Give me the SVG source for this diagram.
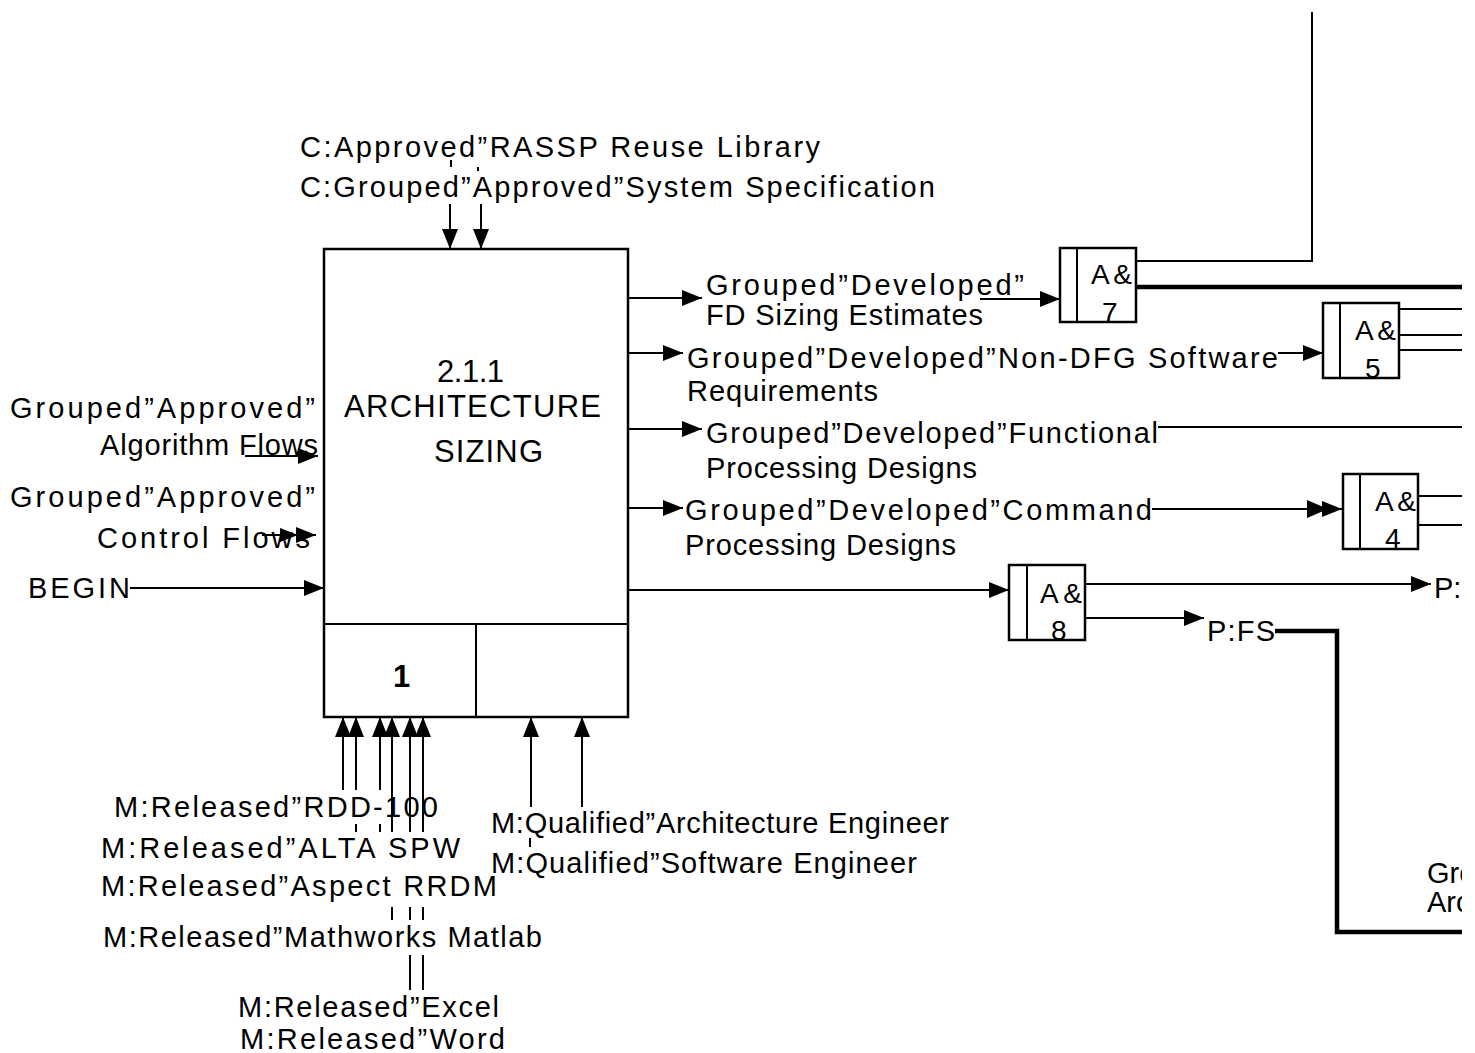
<svg xmlns="http://www.w3.org/2000/svg" width="1475" height="1053" viewBox="0 0 1475 1053">
<defs>
<marker id="ah" markerUnits="userSpaceOnUse" markerWidth="20" markerHeight="16" refX="20" refY="8" orient="auto"><path d="M0,0 L20,8 L0,16 z" fill="#000"/></marker>
<clipPath id="clipR"><rect x="0" y="0" width="1462" height="1053"/></clipPath>
</defs>
<style>
.t{font-family:"Liberation Sans",Arial,sans-serif;font-size:29px;fill:#000}
.tt{font-family:"Liberation Sans",Arial,sans-serif;font-size:31px;fill:#000}
.tj{font-family:"Liberation Sans",Arial,sans-serif;font-size:28px;fill:#000}
.box{fill:#fff;stroke:#000;stroke-width:2.5}
.ln{fill:none;stroke:#000;stroke-width:2}
.thick{fill:none;stroke:#000;stroke-width:4.5}
.arr{marker-end:url(#ah)}
</style>
<rect width="1475" height="1053" fill="#fff"/>

<g id="node-2-1-1">
<rect class="box" x="324" y="249" width="304" height="468"/>
<line class="ln" x1="324" y1="624" x2="628" y2="624" stroke-width="2.5"/>
<line class="ln" x1="476" y1="624" x2="476" y2="717" stroke-width="2.5"/>
<text class="tt" x="437" y="382" textLength="67" lengthAdjust="spacing">2.1.1</text>
<text class="tt" x="344" y="417" textLength="257" lengthAdjust="spacing">ARCHITECTURE</text>
<text class="tt" x="434" y="462" textLength="109" lengthAdjust="spacing">SIZING</text>
<text class="tt" x="393" y="687" font-weight="bold">1</text>
</g>

<g id="junction-a7">
<rect class="box" x="1060" y="248" width="76" height="74"/>
<line class="ln" x1="1077" y1="248" x2="1077" y2="322"/>
<text class="tj" x="1091" y="284" textLength="41" lengthAdjust="spacing">A&amp;</text>
<text class="tj" x="1102" y="322">7</text>
</g>
<g id="junction-a5">
<rect class="box" x="1323" y="303" width="76" height="75"/>
<line class="ln" x1="1340" y1="303" x2="1340" y2="378"/>
<text class="tj" x="1355" y="340" textLength="41" lengthAdjust="spacing">A&amp;</text>
<text class="tj" x="1365" y="378">5</text>
</g>
<g id="junction-a4">
<rect class="box" x="1343" y="474" width="75" height="75"/>
<line class="ln" x1="1360" y1="474" x2="1360" y2="549"/>
<text class="tj" x="1375" y="511" textLength="41" lengthAdjust="spacing">A&amp;</text>
<text class="tj" x="1385" y="548">4</text>
</g>
<g id="junction-a8">
<rect class="box" x="1009" y="565" width="76" height="75"/>
<line class="ln" x1="1027" y1="565" x2="1027" y2="640"/>
<text class="tj" x="1040" y="603" textLength="42" lengthAdjust="spacing">A&amp;</text>
<text class="tj" x="1051" y="640">8</text>
</g>

<g id="labels">
<text class="t" x="300" y="157" textLength="520" lengthAdjust="spacing">C:Approved”RASSP Reuse Library</text>
<text class="t" x="300" y="197" textLength="635" lengthAdjust="spacing">C:Grouped”Approved”System Specification</text>
<text class="t" x="10" y="418" textLength="305" lengthAdjust="spacing">Grouped”Approved”</text>
<text class="t" x="100" y="455" textLength="218" lengthAdjust="spacing">Algorithm Flows</text>
<text class="t" x="10" y="507" textLength="305" lengthAdjust="spacing">Grouped”Approved”</text>
<text class="t" x="97" y="548" textLength="213" lengthAdjust="spacing">Control Flows</text>
<text class="t" x="28" y="598" textLength="102" lengthAdjust="spacing">BEGIN</text>
<text class="t" x="706" y="295" textLength="318" lengthAdjust="spacing">Grouped”Developed”</text>
<text class="t" x="706" y="325" textLength="277" lengthAdjust="spacing">FD Sizing Estimates</text>
<text class="t" x="687" y="368" textLength="591" lengthAdjust="spacing">Grouped”Developed”Non-DFG Software</text>
<text class="t" x="687" y="401" textLength="191" lengthAdjust="spacing">Requirements</text>
<text class="t" x="706" y="443" textLength="452" lengthAdjust="spacing">Grouped”Developed”Functional</text>
<text class="t" x="706" y="478" textLength="271" lengthAdjust="spacing">Processing Designs</text>
<text class="t" x="685" y="520" textLength="467" lengthAdjust="spacing">Grouped”Developed”Command</text>
<text class="t" x="685" y="555" textLength="271" lengthAdjust="spacing">Processing Designs</text>
<text class="t" x="1434" y="598">P:</text>
<text class="t" x="1207" y="641" textLength="68" lengthAdjust="spacing">P:FS</text>
<g clip-path="url(#clipR)">
<text class="t" x="1427" y="883" font-size="22">Gro</text>
<text class="t" x="1427" y="912" font-size="22">Arc</text>
</g>
<text class="t" x="114" y="817" textLength="324" lengthAdjust="spacing">M:Released”RDD-100</text>
<text class="t" x="101" y="858" textLength="359" lengthAdjust="spacing">M:Released”ALTA SPW</text>
<text class="t" x="101" y="896" textLength="396" lengthAdjust="spacing">M:Released”Aspect RRDM</text>
<text class="t" x="103" y="947" textLength="439" lengthAdjust="spacing">M:Released”Mathworks Matlab</text>
<text class="t" x="238" y="1017" textLength="261" lengthAdjust="spacing">M:Released”Excel</text>
<text class="t" x="240" y="1049" textLength="265" lengthAdjust="spacing">M:Released”Word</text>
<text class="t" x="491" y="833" textLength="458" lengthAdjust="spacing">M:Qualified”Architecture Engineer</text>
<text class="t" x="491" y="873" textLength="426" lengthAdjust="spacing">M:Qualified”Software Engineer</text>
</g>

<g id="connectors">
<path class="ln arr" d="M450,204 V249"/>
<path class="ln arr" d="M481,204 V249"/>
<path class="ln" d="M451,160 V167"/>
<path class="ln" d="M478,167 V171"/>
<path class="ln arr" d="M245,456 H318" stroke-width="3"/>
<path class="ln arr" d="M262,535 H316" stroke-width="3"/>
<path d="M280,528 L298,535 L280,542 z" fill="#000"/>
<path class="ln arr" d="M130,588 H324"/>
<path class="ln arr" d="M628,298 H702"/>
<path class="ln arr" d="M980,299 H1060"/>
<path class="ln arr" d="M628,353 H683"/>
<path class="ln arr" d="M1278,353 H1323"/>
<path class="ln arr" d="M628,429 H702"/>
<path class="ln" d="M1158,427 H1462"/>
<path class="ln arr" d="M628,508 H683"/>
<path class="ln arr" d="M1152,509 H1342"/>
<path d="M1307,500 L1328,509 L1307,518 z" fill="#000"/>
<path class="ln arr" d="M628,590 H1009"/>
<path class="ln" d="M1136,261 H1312 V12"/>
<path class="thick" d="M1136,287 H1462"/>
<path class="ln" d="M1399,309 H1462"/>
<path class="ln" d="M1399,335 H1462"/>
<path class="ln" d="M1399,350 H1462"/>
<path class="ln" d="M1418,496 H1462"/>
<path class="ln" d="M1418,525 H1462"/>
<path class="ln arr" d="M1085,584 H1431"/>
<path class="ln arr" d="M1085,618 H1204"/>
<path class="thick" d="M1275,631 H1337 V932 H1462"/>
<path class="ln arr" d="M343,790 V717"/>
<path class="ln arr" d="M356,790 V717"/>
<path class="ln arr" d="M380,790 V717"/>
<path class="ln arr" d="M392,832 V717"/>
<path class="ln arr" d="M410,832 V717"/>
<path class="ln arr" d="M423,832 V717"/>
<path class="ln" d="M356,824 V832 M380,824 V832"/>
<path class="ln" d="M392,907 V920 M410,907 V920 M423,907 V920"/>
<path class="ln" d="M410,955 V990 M423,955 V990"/>
<path class="ln arr" d="M531,807 V717"/>
<path class="ln arr" d="M582,807 V717"/>
<path class="ln" d="M530,838 V847"/>
</g>
</svg>
